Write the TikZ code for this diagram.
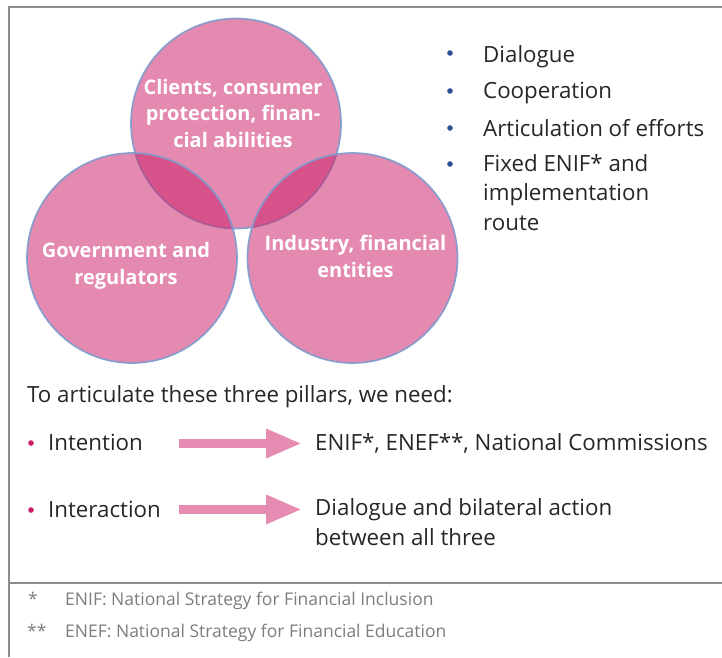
\documentclass[tikz,border=0pt]{standalone}
\usepackage{fontspec}
\setmainfont{Open Sans}
\usetikzlibrary{positioning,arrows.meta}
\definecolor{pillarPink}{RGB}{203,30,103}
\definecolor{pillarEdge}{RGB}{125,155,205}
\definecolor{bulletBlue}{RGB}{45,80,150}
\definecolor{textDark}{RGB}{38,38,38}
\definecolor{noteGray}{RGB}{125,125,125}
\definecolor{frameGray}{RGB}{140,140,140}
\definecolor{arrowPink}{RGB}{230,140,178}
\tikzset{
    pillar/.style={circle, minimum size=210pt, inner sep=0pt, fill=pillarPink, fill opacity=0.52, draw=pillarEdge, draw opacity=0.9, line width=1.7pt},
    pillarText/.style={text=white, align=center, inner sep=0pt, font=\bfseries\fontsize{20}{26.5}\selectfont},
    item/.style={anchor=base west, inner sep=0pt, text=textDark, align=left, font=\fontsize{22.3}{29.5}\selectfont},
    note/.style={anchor=base west, inner sep=0pt, text=noteGray, font=\fontsize{17.5}{18}\selectfont},
    pillarArrow/.style={draw=arrowPink, line width=9.5pt, -{Triangle[length=36pt, width=27pt]}},
    frame/.style={draw=frameGray, line width=1.6pt}
}
\begin{document}
\begin{tikzpicture}[x=1pt, y=-1pt]
		\useasboundingbox (0,0) rectangle (722,657);
		% frame
		\draw[frame] (722,7) -- (9,7) -- (9,657);
		\draw[frame] (9,583) -- (722,583);
		% the three pillars
		\node[pillar] (clients) at (236,123.5) {};
		\node[pillar] (gov) at (132,258) {};
		\node[pillar] (industry) at (352.5,258) {};
		% base = baseline of the last line
		\node[pillarText, anchor=base] (clientsTxt) at (233,147) {Clients, consumer\\protection, finan-\\cial abilities};
		\node[pillarText, anchor=base] (govTxt) at (126,284) {Government and\\regulators};
		\node[pillarText, anchor=base] (industryTxt) at (355.5,277) {Industry, financial\\entities};
		% what it takes
		\fill[bulletBlue] (450,53) circle (2.8pt);
		\fill[bulletBlue] (450,91) circle (2.8pt);
		\fill[bulletBlue] (450,128) circle (2.8pt);
		\fill[bulletBlue] (450,164) circle (2.8pt);
		\node[item] (dialogue) at (483,62) {Dialogue};
		\node[item] (coop) at (483,98) {Cooperation};
		\node[item] (efforts) at (483,136) {Articulation of efforts};
		\node[item] (route) at (483,230) {Fixed ENIF* and\\implementation\\route};
		% needs
		\node[item] (needs) at (27,402) {To articulate these three pillars, we need:};
		\fill[pillarPink] (31,443) circle (2.8pt);
		\fill[pillarPink] (31,510) circle (2.8pt);
		\node[item] (intention) at (48,450) {Intention};
		\node[item] (interaction) at (48,517) {Interaction};
		\node[item] (enif) at (315,450) {ENIF*, ENEF**, National Commissions};
		\node[item] (bilateral) at (315,545) {Dialogue and bilateral action\\between all three};
		\coordinate (a1) at (179,443.5);
		\coordinate (a2) at (179,509.5);
		\draw[pillarArrow] (a1) -- (a1 -| enif.west) [shorten >=13pt];
		\draw[pillarArrow] (a2) -- (a2 -| bilateral.west) [shorten >=13pt];
		% footnotes
		\node[note] (star1) at (28,605) {*};
		\node[note] (enifNote) at (65,605) {ENIF: National Strategy for Financial Inclusion};
		\node[note] (star2) at (27,637) {**};
		\node[note] (enefNote) at (65,637) {ENEF: National Strategy for Financial Education};
\end{tikzpicture}
\end{document}
